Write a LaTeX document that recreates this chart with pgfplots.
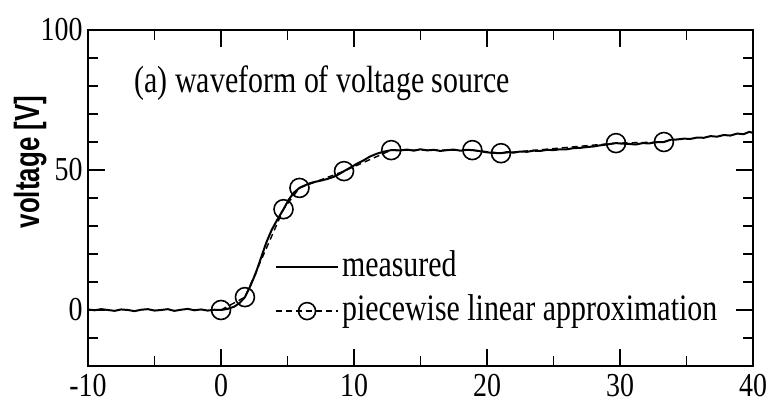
\documentclass[border=0pt]{standalone}
\usepackage{fontspec}
\setmainfont{Liberation Serif}
\newfontfamily\lsans{Liberation Sans}
\usepackage{graphicx}
\usepackage{pgfplots}
\pgfplotsset{compat=1.18}
\pgfplotsset{
  measleg/.style={legend image code/.code={\draw[##1] (0bp,0bp) -- (62bp,0bp);}},
  approxleg/.style={legend image code/.code={\draw[mark repeat=2,mark phase=2,##1, mark size=8.5bp] plot coordinates {(0bp,0bp)(31bp,0bp)(62bp,0bp)};}},
}
\begin{document}
\begin{tikzpicture}[x=1bp,y=1bp]
\useasboundingbox (-88,-51) rectangle (682,366);
\begin{axis}[
  scale only axis,
  width=665bp, height=336bp,
  xmin=-10, xmax=40, ymin=-20, ymax=100,
  xtick={-10,0,10,20,30,40},
  ytick={0,50,100},
  minor xtick={-5,5,15,25,35},
  minor ytick={-10,10,20,30,40,60,70,80,90},
  tick align=inside,
  major tick length=17bp,
  minor tick length=10bp,
  axis line style={line width=2bp},
  every tick/.style={line width=1.6bp, black},
  tick label style={font=\fontsize{28}{30}\selectfont},
  /pgf/number format/assume math mode=true,
  xticklabel={\scalebox{1}[1.2]{\pgfmathprintnumber{\tick}}},
  yticklabel={\scalebox{1}[1.2]{\pgfmathprintnumber{\tick}}},
  xticklabel style={yshift=-5bp},
  yticklabel style={xshift=-2bp},
  ylabel={\scalebox{1}[1.35]{\lsans\bfseries voltage [V]}},
  ylabel style={at={(axis description cs:-0.087,0.607)}, anchor=center, font=\fontsize{26}{28}\selectfont},
  legend style={draw=none, fill=none, at={(rel axis cs:0.281,0.35)}, anchor=north west,
     font=\fontsize{30}{33}\selectfont, inner sep=0pt, row sep=7bp,
     nodes={inner xsep=3bp, inner ysep=0bp, text height=28bp, text depth=9bp}},
  legend cell align=left,
]
\addplot[black, line width=2bp, measleg] coordinates {
(-10,0.2)(-9.5,-0.1)(-9,0.3)(-8.5,0)(-8,-0.3)(-7.5,0.2)(-7,0)(-6.5,-0.4)(-6,0.1)(-5.5,0.3)(-5,-0.2)(-4.5,0)(-4,0.3)(-3.5,-0.3)(-3,0.1)(-2.5,0.4)(-2,-0.1)(-1.5,0.2)(-1,-0.2)(-0.5,0.1)(0,0)
(0.5,0.4)(1,1.2)(1.4,2.5)(1.8,4.6)(2.2,8.5)(2.6,13)(3,18.5)(3.4,24)(3.8,28.5)(4.2,32)(4.7,36)
(5.1,39.5)(5.5,42)(5.9,43.6)(6.3,44.5)(6.7,45.3)(7.1,45.8)(7.5,46.2)(8,46.8)(8.5,47.6)(8.9,48.6)(9.25,49.6)
(9.7,50.8)(10.2,52.2)(10.7,53.4)(11.2,54.8)(11.7,55.8)(12.2,56.5)(12.8,57.1)
(13.5,57)(14,57.3)(14.5,56.9)(15,57.4)(15.5,57)(16,57.2)(16.5,56.8)(17,57.1)(17.5,57.3)(18,56.9)(18.5,57.2)(18.9,57.1)
(19.5,56.7)(20,56.3)(20.5,56.1)(21.05,56.0)(21.5,56.4)(22,56.2)(22.5,56.6)(23,56.5)(23.5,56.9)(24,56.8)(24.5,57.2)(25,57.1)(25.5,57.4)(26,57.4)(26.5,57.8)(27,57.9)(27.5,58.2)(28,58.4)(28.5,58.8)(29,59.1)(29.7,59.6)
(30.2,59.4)(30.7,59.3)(31.2,59.1)(31.7,59.6)(32.2,59.5)(32.7,59.9)(33.3,60.0)
(33.8,60.8)(34.3,60.9)(34.8,61.2)(35.3,61.1)(35.8,61.6)(36.3,61.5)(36.8,62.1)(37.3,61.9)(37.8,62.5)(38.3,62.3)(38.8,63)(39.3,62.8)(39.7,63.6)(40,63.3)
};
\addlegendentry{\scalebox{1}[1.25]{measured}}
\addplot[black, line width=1.4bp, dash pattern=on 6bp off 4bp, mark=o, mark size=9.5bp,
  mark options={solid, fill=white, line width=1.6bp}, approxleg] coordinates {
(0,0)(1.8,4.6)(4.7,36)(5.9,43.6)(9.25,49.6)(12.8,57.1)(18.9,57.1)(21.05,56.0)(29.7,59.6)(33.3,60.0)
};
\addlegendentry{\scalebox{1}[1.25]{piecewise linear approximation}}
\node[anchor=west, font=\fontsize{30}{33}\selectfont, inner sep=0pt] at (rel axis cs:0.07,0.842) {\scalebox{1}[1.27]{(a) waveform of voltage source}};
\end{axis}
\end{tikzpicture}
\end{document}
